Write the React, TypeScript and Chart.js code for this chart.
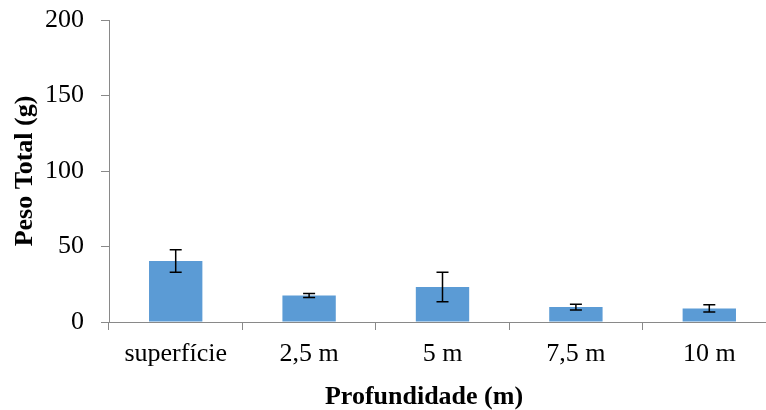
import React, { useEffect, useRef } from "react";
import { Chart, registerables } from "chart.js";

Chart.register(...registerables);

const categories = ["superfície", "2,5 m", "5 m", "7,5 m", "10 m"];
const pesoTotal = [40.4, 17.6, 23.2, 9.9, 9.0];
const erro = [7.5, 1.3, 9.8, 1.9, 2.4];
const yTicks = [0, 50, 100, 150, 200];

const AXIS_COLOR = "#898989";
const BAR_COLOR = "#5B9BD5";
const FONT = "'Liberation Serif', 'Times New Roman', serif";
const CANVAS_W = 848;
const CANVAS_H = 410;

const errorBarPlugin = {
  id: "errorBars",
  afterDatasetsDraw(chart: any) {
    const meta = chart.getDatasetMeta(0);
    const yScale = chart.scales.y;
    const ctx = chart.ctx;
    ctx.save();
    ctx.strokeStyle = "#000000";
    ctx.lineWidth = 1.5;
    meta.data.forEach((bar: any, i: number) => {
      const x = bar.x;
      const yTop = yScale.getPixelForValue(pesoTotal[i] + erro[i]);
      const yBot = yScale.getPixelForValue(pesoTotal[i] - erro[i]);
      const cap = 6;
      ctx.beginPath();
      ctx.moveTo(x, yTop);
      ctx.lineTo(x, yBot);
      ctx.moveTo(x - cap, yTop);
      ctx.lineTo(x + cap, yTop);
      ctx.moveTo(x - cap, yBot);
      ctx.lineTo(x + cap, yBot);
      ctx.stroke();
    });
    ctx.restore();
  },
};

export default function App() {
  const canvasRef = useRef<HTMLCanvasElement | null>(null);

  useEffect(() => {
    document.body.style.margin = "0";
    document.body.style.overflow = "hidden";
    const canvas = canvasRef.current;
    if (!canvas) return;
    const chart = new Chart(canvas, {
      type: "bar",
      data: {
        labels: categories,
        datasets: [
          {
            data: pesoTotal,
            backgroundColor: BAR_COLOR,
            borderWidth: 0,
            barPercentage: 0.4,
            categoryPercentage: 1,
            yAxisID: "y",
          },
        ],
      },
      options: {
        responsive: false,
        animation: false,
        devicePixelRatio: 1,
        layout: { padding: { top: 20, right: 0, bottom: 0, left: 0 } },
        plugins: {
          legend: { display: false },
          tooltip: { enabled: false },
          title: {
            display: true,
            position: "bottom",
            text: "Profundidade (m)",
            color: "#000000",
            font: { family: FONT, size: 26, weight: "bold", lineHeight: 1.2 },
            padding: { top: 0, bottom: -3 },
          },
        },
        scales: {
          x: {
            offset: true,
            grid: {
              display: true,
              offset: true,
              drawOnChartArea: false,
              drawTicks: true,
              tickLength: 8,
              color: AXIS_COLOR,
              lineWidth: 1,
            },
            border: { display: true, color: AXIS_COLOR, width: 1 },
            ticks: {
              color: "#000000",
              font: { family: FONT, size: 26 },
              padding: 9,
              maxRotation: 0,
              autoSkip: false,
            },
            afterFit(scale: any) {
              scale.height = CANVAS_H - 28.2 - 322;
              scale.paddingLeft = 0;
              scale.paddingRight = 0;
            },
          },
          y: {
            min: 0,
            max: 200,
            position: "left",
            afterBuildTicks(scale: any) {
              scale.ticks = yTicks.map((v) => ({ value: v }));
            },
            grid: {
              display: true,
              drawOnChartArea: false,
              drawTicks: true,
              tickLength: 8,
              color: AXIS_COLOR,
              lineWidth: 1,
            },
            border: { display: true, color: AXIS_COLOR, width: 1 },
            ticks: {
              color: "#000000",
              font: { family: FONT, size: 26 },
              padding: 17,
            },
            title: {
              display: true,
              text: "Peso Total (g)",
              color: "#000000",
              font: { family: FONT, size: 26, weight: "bold", lineHeight: 1.2 },
              padding: { top: 10, bottom: 0 },
            },
            afterFit(scale: any) {
              scale.width = 109;
              scale.paddingTop = 0;
              scale.paddingBottom = 0;
            },
          },
          spacer: {
            type: "linear",
            position: "right",
            display: true,
            grid: { display: false, drawTicks: false },
            border: { display: false },
            ticks: { display: false },
            afterFit(scale: any) {
              scale.width = CANVAS_W - 776;
              scale.paddingTop = 0;
              scale.paddingBottom = 0;
            },
          },
        },
      },
      plugins: [errorBarPlugin],
    });
    return () => chart.destroy();
  }, []);

  return (
    <div style={{ width: 766, height: 410, overflow: "hidden", position: "relative", background: "#ffffff" }}>
      <canvas ref={canvasRef} width={CANVAS_W} height={CANVAS_H} style={{ width: CANVAS_W, height: CANVAS_H, display: "block" }} />
    </div>
  );
}
